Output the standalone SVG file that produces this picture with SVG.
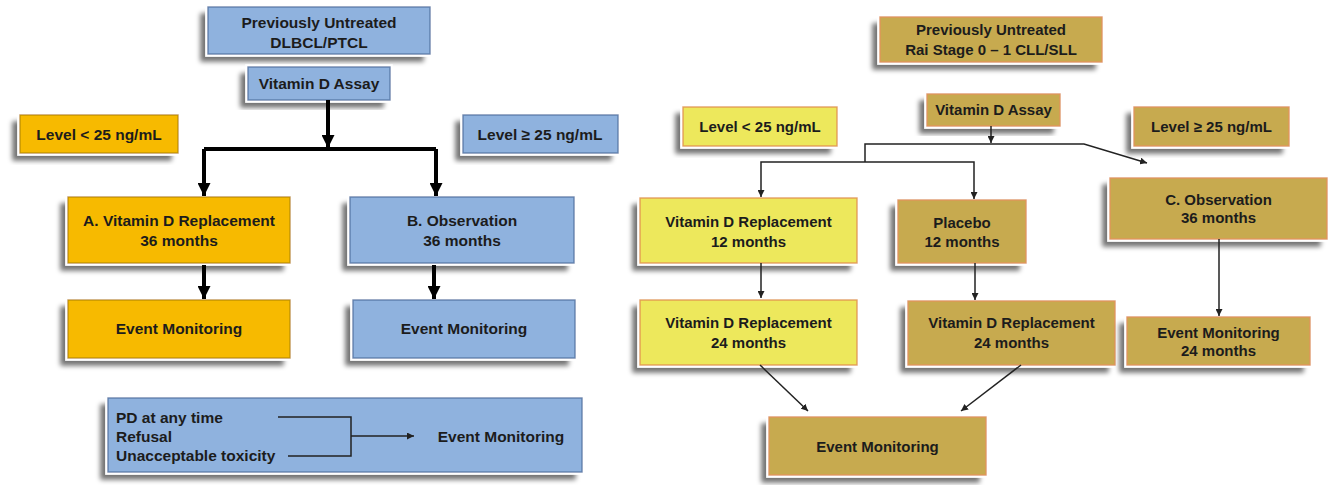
<svg xmlns="http://www.w3.org/2000/svg" width="1334" height="485" viewBox="0 0 1334 485">
<defs>
<filter id="sh" x="-20%" y="-20%" width="140%" height="150%">
<feGaussianBlur in="SourceAlpha" stdDeviation="2.5" result="b"/>
<feOffset in="b" dx="-7" dy="7" result="o"/>
<feComponentTransfer in="o" result="s"><feFuncA type="linear" slope="0.55"/></feComponentTransfer>
<feMorphology in="SourceAlpha" operator="dilate" radius="2" result="d"/>
<feFlood flood-color="#ffffff"/>
<feComposite in2="d" operator="in" result="w"/>
<feMerge><feMergeNode in="s"/><feMergeNode in="w"/><feMergeNode in="SourceGraphic"/></feMerge>
</filter>
<marker id="ah" viewBox="0 0 10 10" refX="10" refY="5" markerWidth="13" markerHeight="13" markerUnits="userSpaceOnUse" orient="auto"><path d="M0,0 L10,5 L0,10 z" fill="#000"/></marker>
<marker id="as" viewBox="0 0 10 10" refX="10" refY="5" markerWidth="7" markerHeight="7" markerUnits="userSpaceOnUse" orient="auto"><path d="M0,0 L10,5 L0,10 z" fill="#222"/></marker>
<marker id="as2" viewBox="0 0 10 10" refX="10" refY="5" markerWidth="7" markerHeight="7" markerUnits="userSpaceOnUse" orient="auto-start-reverse"><path d="M0,0 L10,5 L0,10 z" fill="#222"/></marker>
</defs>
<style>
.box{filter:url(#sh);stroke-width:1.5}
.blue{fill:#8FB2DE;stroke:#5F80AE}
.orange{fill:#F7BA00;stroke:#C39400}
.olive{fill:#C7AA50;stroke:#E0965A}
.yellow{fill:#EDE85C;stroke:#E4A050}
text{font-family:"Liberation Sans",Arial,sans-serif;font-weight:bold;fill:#1c1c1c;text-anchor:middle;font-size:15.5px}
.r text{font-size:15px}
.l{text-anchor:start}
.thick{stroke:#000;stroke-width:4;fill:none}
.thin{stroke:#222;stroke-width:1.5;fill:none}
</style>
<rect width="1334" height="485" fill="#fff"/>

<g id="left">
<g id="n1"><rect class="box blue" x="208" y="7" width="222" height="47"/><text x="319" y="28">Previously Untreated</text><text x="319" y="48">DLBCL/PTCL</text></g>
<g id="n2"><rect class="box blue" x="248" y="67" width="142" height="33"/><text x="319" y="89">Vitamin D Assay</text></g>
<g id="n3"><rect class="box orange" x="20" y="115" width="158" height="38"/><text x="99" y="140">Level &lt; 25 ng/mL</text></g>
<g id="n4"><rect class="box blue" x="463" y="115" width="155" height="38"/><text x="540" y="140">Level ≥ 25 ng/mL</text></g>
<g id="n5"><rect class="box orange" x="68" y="197" width="222" height="66"/><text x="179" y="226">A. Vitamin D Replacement</text><text x="179" y="246">36 months</text></g>
<g id="n6"><rect class="box blue" x="350" y="197" width="224" height="66"/><text x="462" y="226">B. Observation</text><text x="462" y="246">36 months</text></g>
<g id="n7"><rect class="box orange" x="68" y="300" width="222" height="58"/><text x="179" y="334">Event Monitoring</text></g>
<g id="n8"><rect class="box blue" x="353" y="300" width="222" height="58"/><text x="464" y="334">Event Monitoring</text></g>
<g id="n9"><rect class="box blue" x="108" y="398" width="474" height="74"/>
<text class="l" x="116" y="423">PD at any time</text>
<text class="l" x="116" y="442">Refusal</text>
<text class="l" x="116" y="461">Unacceptable toxicity</text>
<text x="501" y="442">Event Monitoring</text>
<path class="thin" d="M278,417 H351 V456 H288" stroke="#1a2540"/>
<path class="thin" d="M351,436 H414" marker-end="url(#as)"/>
</g>
</g>

<g id="right" class="r">
<g id="r1"><rect class="box olive" x="880" y="17" width="222" height="45"/><text x="991" y="35">Previously Untreated</text><text x="991" y="55">Rai Stage 0 – 1 CLL/SLL</text></g>
<g id="r2"><rect class="box olive" x="927" y="94" width="133" height="32"/><text x="993.5" y="115">Vitamin D Assay</text></g>
<g id="r3"><rect class="box yellow" x="683" y="107" width="154" height="39"/><text x="760" y="132">Level &lt; 25 ng/mL</text></g>
<g id="r4"><rect class="box olive" x="1134" y="107" width="155" height="39"/><text x="1211.5" y="132">Level ≥ 25 ng/mL</text></g>
<g id="r5"><rect class="box yellow" x="640" y="198" width="217" height="65"/><text x="748.5" y="227">Vitamin D Replacement</text><text x="748.5" y="247">12 months</text></g>
<g id="r6"><rect class="box olive" x="898" y="200" width="128" height="63"/><text x="962" y="228">Placebo</text><text x="962" y="247">12 months</text></g>
<g id="r7"><rect class="box olive" x="1110" y="178" width="217" height="61"/><text x="1218.5" y="205">C. Observation</text><text x="1218.5" y="223">36 months</text></g>
<g id="r8"><rect class="box yellow" x="640" y="300" width="217" height="65"/><text x="748.5" y="328">Vitamin D Replacement</text><text x="748.5" y="348">24 months</text></g>
<g id="r9"><rect class="box olive" x="908" y="301" width="207" height="64"/><text x="1011.5" y="328">Vitamin D Replacement</text><text x="1011.5" y="348">24 months</text></g>
<g id="r10"><rect class="box olive" x="1127" y="317" width="183" height="48"/><text x="1218.5" y="338">Event Monitoring</text><text x="1218.5" y="356">24 months</text></g>
<g id="r11"><rect class="box olive" x="769" y="417" width="217" height="58"/><text x="877.5" y="452">Event Monitoring</text></g>
</g>

<g id="connectors">
<path class="thick" d="M328,100 V148" marker-end="url(#ah)"/>
<path class="thick" d="M204,149 H436"/>
<path class="thick" d="M204,149 V196" marker-end="url(#ah)"/>
<path class="thick" d="M436,149 V196" marker-end="url(#ah)"/>
<path class="thick" d="M204,265 V299" marker-end="url(#ah)"/>
<path class="thick" d="M434,265 V299" marker-end="url(#ah)"/>
<path class="thin" d="M991,126 V143" marker-end="url(#as)"/>
<path class="thin" d="M865,162 V144 H1084 L1147,163" marker-end="url(#as)"/>
<path class="thin" d="M761,197 V162 H974 V199" marker-start="url(#as2)" marker-end="url(#as)"/>
<path class="thin" d="M761,263 V298" marker-end="url(#as)"/>
<path class="thin" d="M975,263 V300" marker-end="url(#as)"/>
<path class="thin" d="M1219,239 V316" marker-end="url(#as)"/>
<path class="thin" d="M760,365 L808,411" marker-end="url(#as)"/>
<path class="thin" d="M1021,365 L961,411" marker-end="url(#as)"/>
</g>
</svg>
